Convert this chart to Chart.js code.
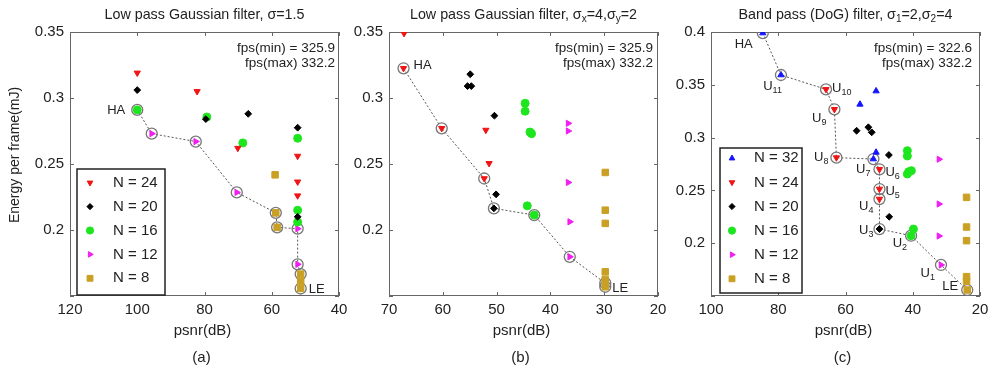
<!DOCTYPE html>
<html lang="en">
<head>
<meta charset="UTF-8">
<title>Energy per frame vs psnr</title>
<script src="https://cdn.jsdelivr.net/npm/chart.js"></script>
<style>
  body { margin: 0; background: #fff; width: 993px; height: 369px; position: relative; overflow: hidden; }
  canvas { position: absolute; top: 0; }
</style>
</head>
<body>
<canvas id="chartA" width="365" height="369" style="left:0"></canvas>
<canvas id="chartB" width="340" height="369" style="left:345px"></canvas>
<canvas id="chartC" width="328" height="369" style="left:665px"></canvas>
<script>
// ---- (a) low pass Gaussian filter, sigma = 1.5 : [psnr dB, energy mJ]
const aN24 = [[100.0, 0.319], [82.2, 0.305], [70.1, 0.262], [52.3, 0.256], [52.3, 0.2365], [52.3, 0.226]];
const aN20 = [[100.0, 0.306], [79.6, 0.284], [67.0, 0.288], [52.3, 0.2775], [52.3, 0.210]];
const aN16 = [[100.0, 0.291], [79.3, 0.2856], [68.6, 0.266], [52.3, 0.2695], [52.3, 0.215], [52.3, 0.206]];
const aN12 = [[95.7, 0.273], [82.6, 0.267], [70.4, 0.2285], [52.3, 0.201], [52.3, 0.174]];
const aN8 = [[59.0, 0.2418], [58.8, 0.213], [58.4, 0.202], [51.4, 0.1666], [51.4, 0.161], [51.4, 0.1557]];
// trade-off curve, as [series, index]
const aPath = [['N16', 0], ['N12', 0], ['N12', 1], ['N12', 2], ['N8', 1], ['N8', 2], ['N12', 3], ['N12', 4], ['N8', 3], ['N8', 5]];
const aNames = ['HA', '', '', '', '', '', '', '', '', 'LE'];

// ---- (b) low pass Gaussian filter, sigma_x = 4, sigma_y = 2
const bN24 = [[67.2, 0.349], [67.3, 0.3225], [60.2, 0.277], [52.0, 0.2757], [51.4, 0.2505], [52.3, 0.239]];
const bN20 = [[54.9, 0.318], [55.4, 0.309], [54.7, 0.309], [50.4, 0.2866], [50.1, 0.227], [50.5, 0.2164]];
const bN16 = [[44.7, 0.296], [44.7, 0.290], [43.8, 0.2742], [43.5, 0.273], [44.3, 0.2183], [43.0, 0.2113]];
const bN12 = [[36.7, 0.2808], [36.7, 0.275], [36.7, 0.236], [36.4, 0.2062], [36.4, 0.1797]];
const bN8 = [[29.8, 0.2436], [29.8, 0.215], [29.8, 0.205], [29.8, 0.1683], [29.8, 0.1625], [29.8, 0.1597], [29.8, 0.157]];
const bPath = [['N24', 1], ['N24', 2], ['N24', 5], ['N20', 5], ['N16', 5], ['N12', 4], ['N8', 5], ['N8', 6]];
const bNames = ['HA', '', '', '', '', '', '', 'LE'];

// ---- (c) band pass (DoG) filter, sigma_1 = 2, sigma_2 = 4
const cN32 = [[84.6, 0.399], [79.2, 0.3593], [50.9, 0.3441], [55.7, 0.3315], [50.9, 0.286], [51.7, 0.2797]];
const cN24 = [[65.8, 0.3457], [63.3, 0.3268], [62.7, 0.281], [49.9, 0.270], [49.9, 0.2513], [49.9, 0.2418]];
const cN20 = [[56.7, 0.3065], [53.2, 0.3098], [52.2, 0.305], [47.1, 0.2835], [47.0, 0.225], [49.9, 0.2134]];
const cN16 = [[41.6, 0.2876], [41.6, 0.2826], [41.2, 0.2677], [40.4, 0.2687], [41.6, 0.2655], [39.8, 0.2134], [40.5, 0.2071]];
const cN12 = [[32.2, 0.2795], [32.2, 0.2371], [32.2, 0.2068], [31.6, 0.1794]];
const cN8 = [[24.0, 0.2434], [24.0, 0.2153], [24.0, 0.2024], [24.0, 0.1683], [24.0, 0.164], [23.8, 0.1557]];
const cPath = [['N32', 0], ['N32', 1], ['N24', 0], ['N24', 1], ['N24', 2], ['N32', 5], ['N24', 3], ['N24', 4], ['N24', 5], ['N20', 5], ['N16', 6], ['N12', 3], ['N8', 5]];
const cNames = ['HA', 'U11', 'U10', 'U9', 'U8', 'U7', 'U6', 'U5', 'U4', 'U3', 'U2', 'U1', 'LE'];

const FONT = '"Liberation Sans", Arial, sans-serif';
const INK = '#222';

const markStyle = {
  N32: { pointStyle: 'triangle', rotation: 0, radius: 3.6, color: '#1414ff' },
  N24: { pointStyle: 'triangle', rotation: 180, radius: 3.6, color: '#f01414' },
  N20: { pointStyle: 'rectRot', rotation: 0, radius: 3.4, color: '#000000' },
  N16: { pointStyle: 'circle', rotation: 0, radius: 4, color: '#1ee61e' },
  N12: { pointStyle: 'triangle', rotation: 90, radius: 3.6, color: '#f01ef0' },
  N8: { pointStyle: 'rect', rotation: 0, radius: 4.6, color: '#c9a024' }
};

// text with subscripts: parts = [[text, isSub], ...]
function drawRich(ctx, parts, x, y, size, align) {
  const sub = Math.round(size * 0.72);
  let w = 0;
  parts.forEach(([t, s]) => {
    ctx.font = (s ? sub : size) + 'px ' + FONT;
    w += ctx.measureText(t).width;
  });
  let cx = align === 'center' ? x - w / 2 : align === 'right' ? x - w : x;
  ctx.textAlign = 'left';
  ctx.textBaseline = 'middle';
  parts.forEach(([t, s]) => {
    ctx.font = (s ? sub : size) + 'px ' + FONT;
    ctx.fillText(t, cx, s ? y + size * 0.32 : y);
    cx += ctx.measureText(t).width;
  });
}

function nameParts(name) {
  const m = name.match(/^([A-Z]+)(\d*)$/);
  return m[2] ? [[m[1], false], [m[2], true]] : [[m[1], false]];
}

const decor = {
  id: 'decor',
  beforeDatasetsDraw(chart, args, o) {
    const { ctx, chartArea: a, scales: { x, y } } = chart;
    ctx.save();
    ctx.strokeStyle = '#666';
    ctx.lineWidth = 1;
    ctx.strokeRect(a.left + 0.5, a.top + 0.5, a.width - 1, a.height - 1);
    ctx.beginPath();
    x.ticks.forEach(t => {
      const px = Math.round(x.getPixelForValue(t.value)) + 0.5;
      ctx.moveTo(px, a.bottom); ctx.lineTo(px, a.bottom - 4);
      ctx.moveTo(px, a.top); ctx.lineTo(px, a.top + 4);
    });
    y.ticks.forEach(t => {
      const py = Math.round(y.getPixelForValue(t.value)) + 0.5;
      ctx.moveTo(a.left, py); ctx.lineTo(a.left + 4, py);
      ctx.moveTo(a.right, py); ctx.lineTo(a.right - 4, py);
    });
    ctx.stroke();
    ctx.restore();
  },
  afterDraw(chart, args, o) {
    const { ctx, chartArea: a } = chart;
    const mid = (a.left + a.right) / 2;
    ctx.save();
    ctx.fillStyle = INK;
    drawRich(ctx, o.title, mid, 15, 14.3, 'center');
    drawRich(ctx, [['psnr(dB)', false]], mid - 2, 331, 15, 'center');
    drawRich(ctx, [[o.tag, false]], mid - 3, 358, 15, 'center');
    if (o.yTitle) {
      ctx.save();
      ctx.translate(15, 155);
      ctx.rotate(-Math.PI / 2);
      drawRich(ctx, [[o.yTitle, false]], 0, 0, 14, 'center');
      ctx.restore();
    }
    // fps notes
    drawRich(ctx, [[o.fps[0], false]], a.right - o.fpsDx, 48, 13.5, 'right');
    drawRich(ctx, [[o.fps[1], false]], a.right - o.fpsDx, 63, 13.5, 'right');

    // labels on the highlighted curve
    const meta = chart.getDatasetMeta(chart.data.datasets.length - 1);
    o.names.forEach((n, i) => {
      if (!n) return;
      const el = meta.data[i];
      const off = o.nameOffsets[n];
      drawRich(ctx, nameParts(n), el.x + off[0], el.y + off[1], 13, off[2]);
    });

    // legend box
    const lg = o.legend;
    if (lg) {
      const x0 = a.left + lg.dx, y0 = a.top + lg.dy;
      ctx.fillStyle = '#fff';
      ctx.fillRect(x0, y0, lg.w, lg.h);
      ctx.strokeStyle = '#222';
      ctx.lineWidth = 1.5;
      ctx.strokeRect(x0, y0, lg.w, lg.h);
      chart.data.datasets.slice(0, -1).forEach((d, i) => {
        const yy = y0 + lg.first + i * lg.gap;
        ctx.fillStyle = d.backgroundColor;
        ctx.strokeStyle = d.borderColor;
        ctx.lineWidth = 1;
        Chart.helpers.drawPoint(ctx, { pointStyle: d.pointStyle, rotation: d.rotation, radius: d.pointRadius * 0.9, borderWidth: 1 }, x0 + lg.mx, yy);
        ctx.fillStyle = INK;
        drawRich(ctx, [[d.label, false]], x0 + lg.tx, yy, 15, 'left');
      });
    }
    ctx.restore();
  }
};

function makePanel(id, series, path, xr, yr, padRight, yWidth, decorOpts) {
  const keys = Object.keys(series);
  const datasets = keys.map(k => ({
    label: 'N = ' + k.slice(1),
    data: series[k].map(p => ({ x: p[0], y: p[1] })),
    pointStyle: markStyle[k].pointStyle,
    rotation: markStyle[k].rotation,
    pointRadius: markStyle[k].radius,
    backgroundColor: markStyle[k].color,
    borderColor: markStyle[k].color,
    borderWidth: 1,
    order: 1
  }));
  datasets.push({
    label: 'curve',
    data: path.map(([k, i]) => ({ x: series[k][i][0], y: series[k][i][1] })),
    showLine: true,
    borderColor: '#555',
    borderWidth: 1,
    borderDash: [2, 2],
    pointStyle: 'circle',
    pointRadius: 5.5,
    pointBackgroundColor: 'rgba(0,0,0,0)',
    pointBorderColor: '#777',
    pointBorderWidth: 1.3,
    tension: 0,
    order: 10
  });

  return new Chart(document.getElementById(id), {
    type: 'scatter',
    data: { datasets },
    options: {
      responsive: false,
      animation: false,
      events: [],
      layout: { padding: { top: 32, right: padRight, left: 0, bottom: 0 } },
      plugins: { legend: { display: false }, tooltip: { enabled: false }, decor: decorOpts },
      scales: {
        x: {
          type: 'linear', reverse: true, min: xr[0], max: xr[1],
          grid: { display: false, drawTicks: false }, border: { display: false },
          ticks: { stepSize: xr[2], color: INK, padding: 5, maxRotation: 0, autoSkip: false, font: { family: FONT, size: 15 } },
          afterFit: s => { s.height = 73; s.paddingLeft = 0; s.paddingRight = 0; }
        },
        y: {
          type: 'linear', min: yr[0], max: yr[1],
          grid: { display: false, drawTicks: false }, border: { display: false },
          ticks: {
            stepSize: 0.05, color: INK, padding: 6, font: { family: FONT, size: 15 },
            callback: v => (v < 0.17 ? '' : String(+v.toFixed(2)))
          },
          afterFit: s => { s.width = yWidth; s.paddingTop = 0; s.paddingBottom = 0; }
        }
      }
    },
    plugins: [decor]
  });
}

makePanel('chartA', { N24: aN24, N20: aN20, N16: aN16, N12: aN12, N8: aN8 }, aPath,
  [40, 120, 20], [0.15, 0.35], 26, 70, {
    title: [['Low pass Gaussian filter, σ=1.5', false]],
    tag: '(a)', yTitle: 'Energy per frame(mJ)',
    fps: ['fps(min) = 325.9', 'fps(max) 332.2'], fpsDx: 4,
    names: aNames,
    nameOffsets: { HA: [-12, 1, 'right'], LE: [8, 1, 'left'] },
    legend: { dx: 7, dy: 137, w: 88, h: 126, first: 13.7, gap: 23.9, mx: 13, tx: 36 }
  });

makePanel('chartB', { N24: bN24, N20: bN20, N16: bN16, N12: bN12, N8: bN8 }, bPath,
  [20, 70, 10], [0.15, 0.35], 27, 44, {
    title: [['Low pass Gaussian filter, σ', false], ['x', true], ['=4,σ', false], ['y', true], ['=2', false]],
    tag: '(b)',
    fps: ['fps(min) = 325.9', 'fps(max) 332.2'], fpsDx: 5,
    names: bNames,
    nameOffsets: { HA: [10, -3, 'left'], LE: [7, 2, 'left'] }
  });

makePanel('chartC', { N32: cN32, N24: cN24, N20: cN20, N16: cN16, N12: cN12, N8: cN8 }, cPath,
  [20, 100, 20], [0.15, 0.4], 13, 46, {
    title: [['Band pass (DoG) filter, σ', false], ['1', true], ['=2,σ', false], ['2', true], ['=4', false]],
    tag: '(c)',
    fps: ['fps(min) = 322.6', 'fps(max) 332.2'], fpsDx: 8,
    names: cNames,
    nameOffsets: {
      HA: [-10, 11, 'right'], U11: [1, 11, 'right'], U10: [6, -1, 'left'], U9: [-8, 9, 'right'],
      U8: [-8, 0, 'right'], U7: [-3, 10, 'right'], U6: [6, 3, 'left'], U5: [6, 2, 'left'],
      U4: [-6, 7, 'right'], U3: [-6, 1, 'right'], U2: [-4, 8, 'right'], U1: [-6, 8, 'right'], LE: [-9, -4, 'right']
    },
    legend: { dx: 9, dy: 116, w: 82, h: 145, first: 10.3, gap: 24.1, mx: 12, tx: 34 }
  });
</script>
</body>
</html>
